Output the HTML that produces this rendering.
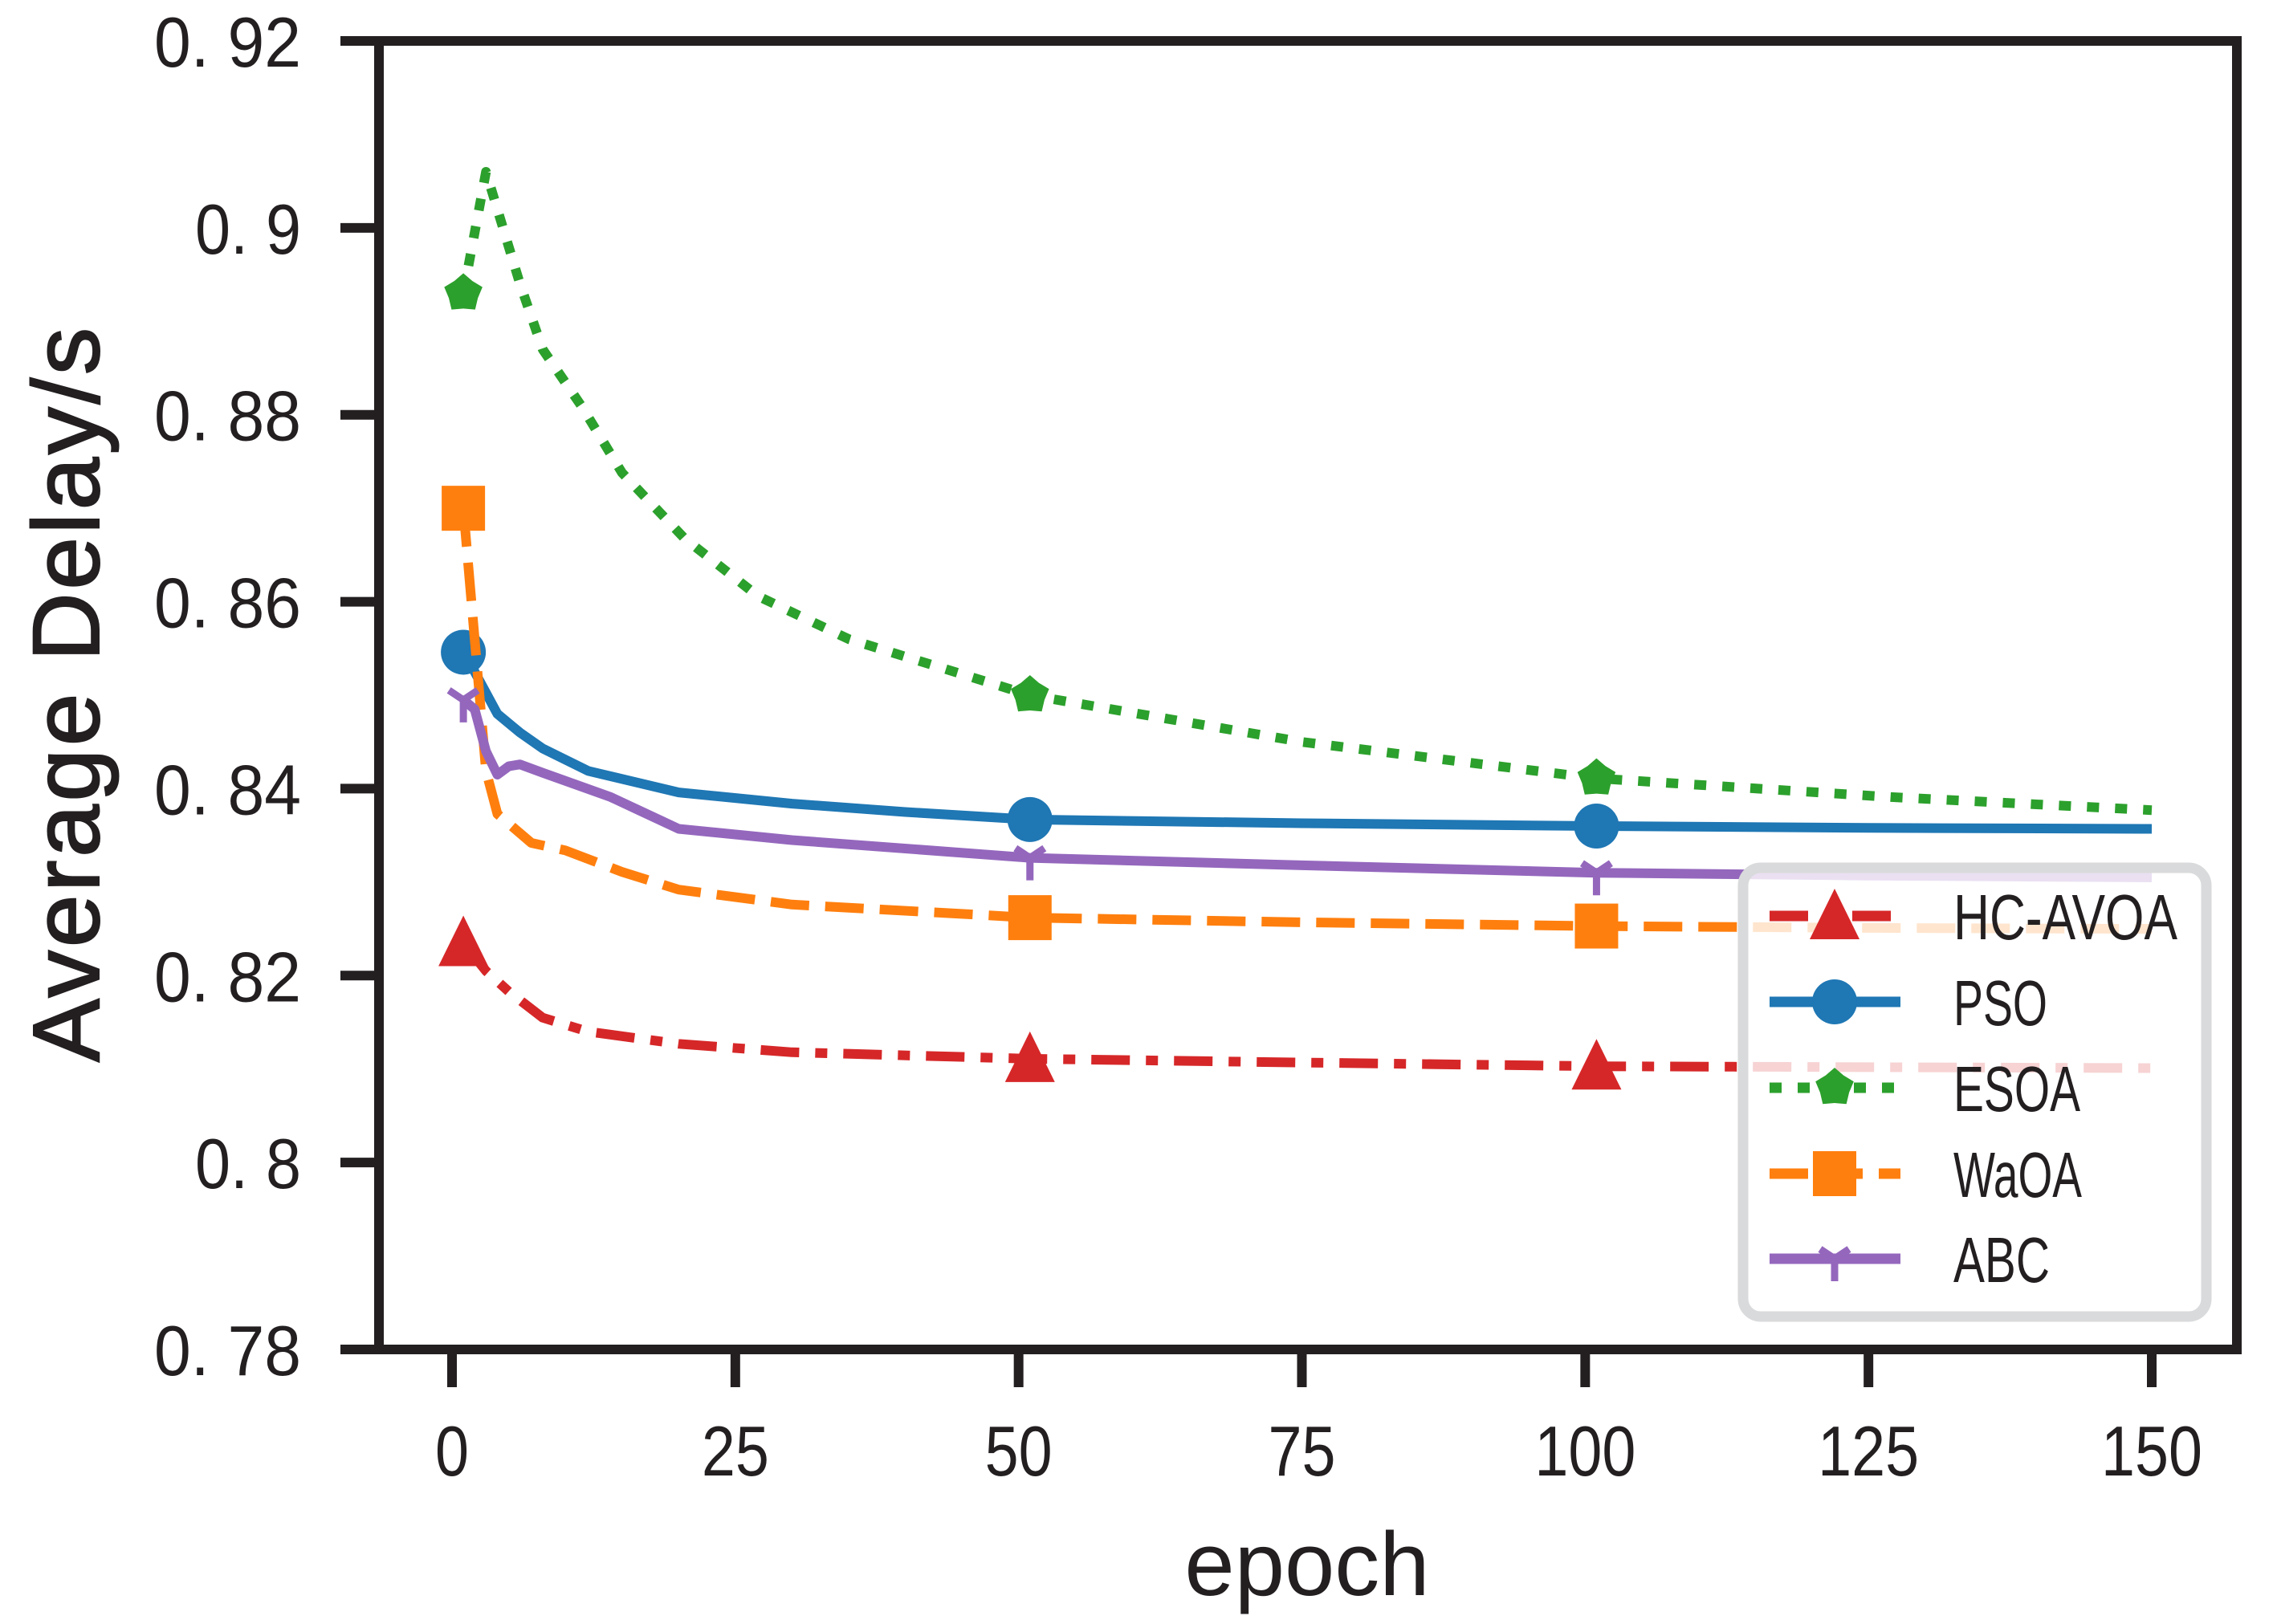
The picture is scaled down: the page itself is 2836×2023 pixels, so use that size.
<!DOCTYPE html>
<html><head><meta charset="utf-8"><style>
html,body{margin:0;padding:0;background:#fff;}
svg{display:block;font-family:"Liberation Sans","Noto Sans CJK SC",sans-serif;}
</style></head><body>
<svg id="chart" width="2836" height="2023" viewBox="0 0 2836 2023" xmlns="http://www.w3.org/2000/svg">
<rect width="2836" height="2023" fill="#fff"/>
<g id="series"></g>
<rect x="472" y="51" width="2314" height="1630" fill="none" stroke="#231f20" stroke-width="12"/>
<g id="axes"></g>
<text x="1628" y="1987" font-size="112" text-anchor="middle" fill="#231f20">epoch</text>
<text transform="translate(123,1323) rotate(-90)" font-size="118" textLength="915" lengthAdjust="spacing" fill="#231f20" stroke="#231f20" stroke-width="2">Average Delay/s</text>
<g id="legend"></g>
</svg>
<script>
const xs_hc = [1,3,5,8,12,20,30,51,75,101,125,150];
const ys_hc = [0.8235,0.8205,0.8183,0.8155,0.8140,0.8127,0.8118,0.8111,0.8107,0.8103,0.8102,0.8101];
const xs_pso = [1,2,4,6,8,12,20,30,40,51,75,101,125,150];
const ys_pso = [0.8546,0.8525,0.8480,0.8460,0.8443,0.8419,0.8396,0.8384,0.8375,0.8367,0.8363,0.8360,0.8358,0.8357];
const xs_esoa = [1,3,6,8,11.5,15,20.5,27,35,51,75,101,127,150];
const ys_esoa = [0.893,0.906,0.894,0.887,0.8808,0.8738,0.8668,0.8606,0.8560,0.850,0.845,0.8411,0.8391,0.8377];
const xs_waoa = [1,2,3,4,7,10,15,20,30,51,75,101,125,150];
const ys_waoa = [0.870,0.856,0.8419,0.8373,0.8342,0.8334,0.8311,0.8292,0.8276,0.8262,0.8257,0.8253,0.8251,0.8250];
const xs_abc = [1,2,3,4,5,6,8,14,20,30,51,75,101,125,150];
const ys_abc = [0.8495,0.8485,0.8440,0.8415,0.8424,0.8426,0.8417,0.8391,0.8357,0.8345,0.8326,0.8318,0.8310,0.8307,0.8305];
const markerXs = [1,51,101];
const xTicks = [0,25,50,75,100,125,150];
const xTickLabels = ["0","25","50","75","100","125","150"];
const yTicks = [0.78,0.80,0.82,0.84,0.86,0.88,0.90,0.92];
const yTickLabels = ["0. 78","0. 8","0. 82","0. 84","0. 86","0. 88","0. 9","0. 92"];
const seriesNames = ["HC-AVOA","PSO","ESOA","WaOA","ABC"];

const NS = "http://www.w3.org/2000/svg";
function X(v){ return 563 + (v-0)*(2680-563)/150; }
function Y(v){ return 1681 - (v-0.78)*(1681-51)/0.14; }
function mk(tag, attrs, parent){
  const e = document.createElementNS(NS, tag);
  for (const k in attrs) e.setAttribute(k, attrs[k]);
  parent.appendChild(e); return e;
}
function interp(xs, ys, x){
  for (let i=0;i<xs.length-1;i++){
    if (x>=xs[i] && x<=xs[i+1]) return ys[i]+(ys[i+1]-ys[i])*(x-xs[i])/(xs[i+1]-xs[i]);
  }
  return ys[ys.length-1];
}
const styles = [
  {xs:xs_hc, ys:ys_hc, color:"#d62728", dash:"48 20 15 20", marker:"tri"},
  {xs:xs_pso, ys:ys_pso, color:"#1f77b4", dash:"", marker:"circle"},
  {xs:xs_esoa, ys:ys_esoa, color:"#2ca02c", dash:"15 20", marker:"star"},
  {xs:xs_waoa, ys:ys_waoa, color:"#ff7f0e", dash:"48 20", marker:"square"},
  {xs:xs_abc, ys:ys_abc, color:"#9467bd", dash:"", marker:"tri1"}
];
function drawMarker(type, cx, cy, color, parent){
  let e;
  if (type==="tri"){
    e = mk("polygon",{points:`${cx},${cy-34} ${cx-31},${cy+29} ${cx+31},${cy+29}`, fill:color}, parent);
  } else if (type==="circle"){
    e = mk("circle",{cx:cx, cy:cy, r:28, fill:color}, parent);
  } else if (type==="square"){
    e = mk("rect",{x:cx-27, y:cy-28, width:54, height:56, fill:color}, parent);
  } else if (type==="star"){
    let pts=[];
    for (let i=0;i<10;i++){ const a=-Math.PI/2+i*Math.PI/5; const r=(i%2===0)?25:19; pts.push((cx+r*Math.cos(a)).toFixed(1)+","+(cy+r*Math.sin(a)).toFixed(1)); }
    e = mk("polygon",{points:pts.join(" "), fill:color}, parent);
  } else {
    e = mk("path",{d:`M${cx},${cy} L${cx},${cy+28} M${cx},${cy} L${cx-18},${cy-12} M${cx},${cy} L${cx+18},${cy-12}`, stroke:color, "stroke-width":9, fill:"none"}, parent);
  }
  return e;
}
const sg = document.getElementById("series");
styles.forEach((s, si) => {
  const g = mk("g",{}, sg);
  
  
  const d = s.xs.map((x,i)=>(i?"L":"M")+X(x).toFixed(1)+","+Y(s.ys[i]).toFixed(1)).join(" ");
  const p = mk("path",{d:d, fill:"none", stroke:s.color, "stroke-width":12, "stroke-linejoin":"round"}, g);
  if (s.dash) p.setAttribute("stroke-dasharray", s.dash);
  
  
  markerXs.forEach(mx => {
    const m = drawMarker(s.marker, X(mx), Y(interp(s.xs, s.ys, mx)), s.color, g);
    
    
  });
});
const ag = document.getElementById("axes");
xTicks.forEach((t,i)=>{
  const l = mk("line",{x1:X(t), x2:X(t), y1:1681, y2:1728, stroke:"#231f20", "stroke-width":12}, ag);
  
  
  const lab = xTickLabels[i];
  const tx = mk("text",{x:X(t), y:1838, "font-size":88, "text-anchor":"middle", fill:"#231f20", textLength:lab.length*42, lengthAdjust:"spacingAndGlyphs"}, ag);
  tx.textContent = lab;
  
  
});
yTicks.forEach((t,i)=>{
  const l = mk("line",{x1:424, x2:472, y1:Y(t), y2:Y(t), stroke:"#231f20", "stroke-width":12}, ag);
  
  
  const lab = yTickLabels[i];
  const tx = mk("text",{x:375, y:Y(t)+32, "font-size":88, "text-anchor":"end", fill:"#231f20", textLength:(lab.length===5?183:132), lengthAdjust:"spacingAndGlyphs"}, ag);
  tx.textContent = lab;
  
  
});
const lg = document.getElementById("legend");
const box = mk("rect",{x:2171, y:1081, width:577, height:559, rx:22, fill:"rgba(255,255,255,0.8)", stroke:"#d9dadb", "stroke-width":13}, lg);


const legY = [1141,1248,1355,1462,1568];
const legW = [279,117,158,160,120];
styles.forEach((s,i)=>{
  const g = mk("g",{}, lg);
  
  
  const y = legY[i];
  const p = mk("line",{x1:2204, x2:2367, y1:y, y2:y, stroke:s.color, "stroke-width":13}, g);
  if (s.dash) p.setAttribute("stroke-dasharray", s.dash);
  drawMarker(s.marker, 2285, y, s.color, g);
  const t = mk("text",{x:2433, y:y+29, "font-size":80, fill:"#231f20", textLength:legW[i], lengthAdjust:"spacingAndGlyphs"}, g);
  t.textContent = seriesNames[i];
});
</script>
</body></html>
